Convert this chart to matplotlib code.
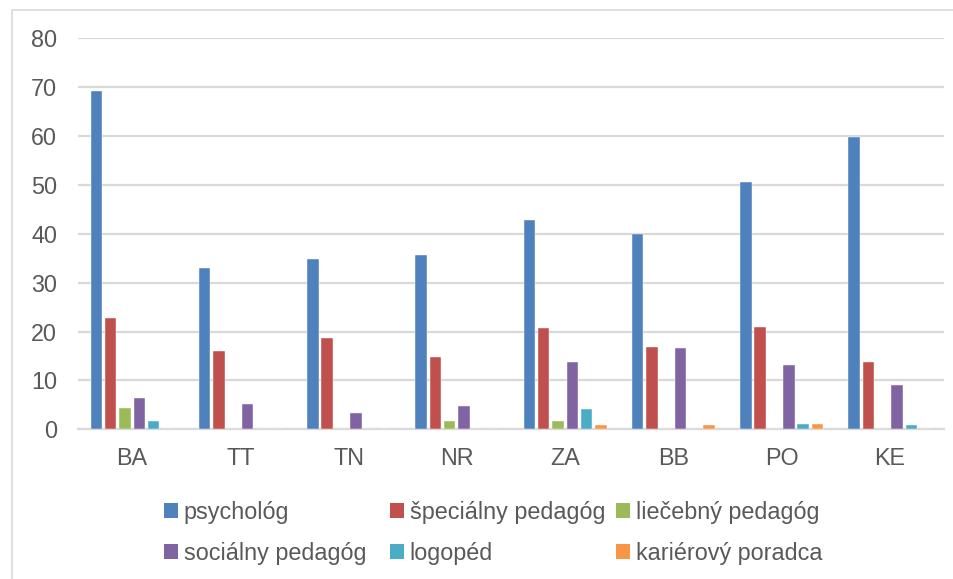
import matplotlib
matplotlib.use("Agg")
import matplotlib.pyplot as plt
import numpy as np
from matplotlib.patches import Rectangle, Patch

categories = ["BA", "TT", "TN", "NR", "ZA", "BB", "PO", "KE"]
series_names = ["psychológ", "špeciálny pedagóg", "liečebný pedagóg",
                "sociálny pedagóg", "logopéd", "kariérový poradca"]
psycholog = [69.2, 33.1, 34.8, 35.6, 42.8, 40.0, 50.7, 59.9]
specialny = [22.8, 16.0, 18.7, 14.7, 20.7, 16.8, 20.9, 13.7]
liecebny = [4.4, 0, 0, 1.8, 1.8, 0, 0, 0]
socialny = [6.4, 5.2, 3.4, 4.8, 13.7, 16.6, 13.2, 9.0]
logoped = [1.8, 0, 0, 0, 4.2, 0, 1.1, 0.9]
karierovy = [0, 0, 0, 0, 0.9, 0.9, 1.1, 0]
yticks = [0, 10, 20, 30, 40, 50, 60, 70, 80]

series = [psycholog, specialny, liecebny, socialny, logoped, karierovy]
colors = ["#4F81BD", "#C0504D", "#9BBB59", "#8064A2", "#4BACC6", "#F79646"]

plt.rcParams['font.family'] = ['Liberation Sans', 'DejaVu Sans']
W, H = 954, 579
fig = plt.figure(figsize=(W / 100, H / 100), dpi=100)
fig.patch.set_facecolor("white")

# outer chart border (clipped at right/bottom)
fig.patches.append(Rectangle((12.5 / W, -0.05), 1.1, 1 - 9.5 / H + 0.05,
                             transform=fig.transFigure, fill=False,
                             edgecolor="#d9d9d9", linewidth=1.2))

ax = fig.add_axes([78 / W, 1 - 429.3 / H, (944 - 78) / W, (429.3 - 38.3) / H])
x = np.arange(len(categories))
pitch = 0.132
bw = 0.106
handles = []
for i, (vals, c, name) in enumerate(zip(series, colors, series_names)):
    ax.bar(x + (i - 2.5) * pitch, vals, width=bw, color=c, zorder=3,
           edgecolor="white", linewidth=0.3)
    handles.append(Patch(facecolor=c, label=name))

FS = 16.8
ax.set_xlim(-0.5, len(categories) - 0.5)
ax.set_ylim(0, 80)
ax.set_yticks(yticks)
ax.set_xticks(x)
ax.set_xticklabels(categories)
ax.tick_params(axis="both", length=0, labelsize=FS, labelcolor="#595959")
ax.tick_params(axis="y", pad=15)
ax.tick_params(axis="x", pad=13)
ax.grid(axis="y", color="#d9d9d9", linewidth=1.6, zorder=0)
for s in ["left", "right", "top"]:
    ax.spines[s].set_visible(False)
ax.spines["bottom"].set_color("#d9d9d9")
ax.spines["bottom"].set_linewidth(1.6)

# legend: three columns, each with two entries
cols = [(164, [0, 3]), (390, [1, 4]), (616, [2, 5])]
for xpix, idxs in cols:
    leg = fig.legend(handles=[handles[k] for k in idxs],
                     loc="upper left",
                     bbox_to_anchor=(xpix / W, 1 - 501 / H),
                     frameon=False, fontsize=FS, handlelength=0.62,
                     handleheight=0.62, handletextpad=0.22,
                     labelspacing=0.76, borderpad=0, borderaxespad=0)
    for t in leg.get_texts():
        t.set_color("#595959")

fig.savefig("out.png", dpi=100, facecolor="white")
